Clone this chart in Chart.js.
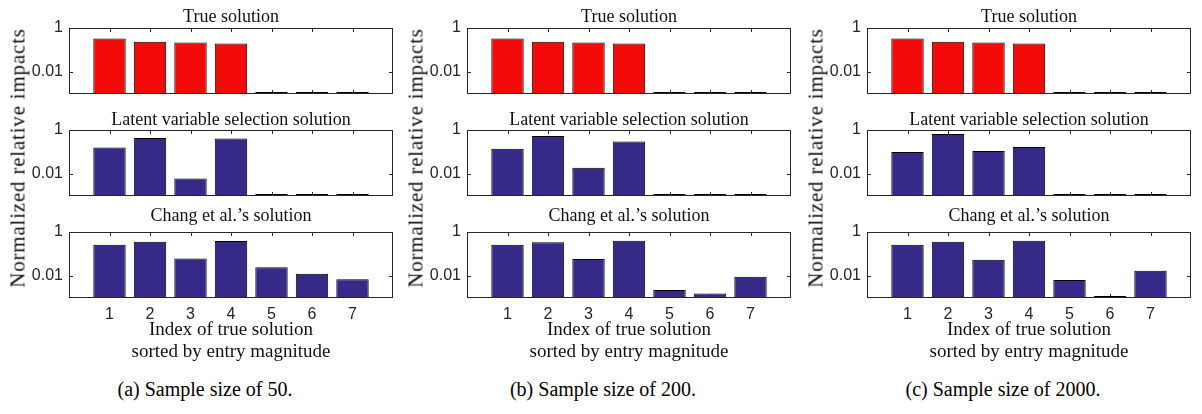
<!DOCTYPE html>
<html>
<head>
<meta charset="utf-8">
<script src="https://cdn.jsdelivr.net/npm/chart.js@4/dist/chart.umd.min.js"></script>
<style>
  html, body { margin: 0; padding: 0; background: #fff; }
  #fig { position: relative; width: 1202px; height: 414px; overflow: hidden; background: #fff; }
  #fig canvas { position: absolute; }
  .ylab {
    position: absolute; white-space: nowrap; line-height: 1;
    font-family: 'Liberation Serif', serif; font-size: 21px; letter-spacing: 0.8px; color: #111;
    transform: translate(-50%, -50%) rotate(-90deg);
  }
  .cap {
    position: absolute; white-space: nowrap; line-height: 24px;
    font-family: 'Liberation Serif', serif; font-size: 20px; color: #000;
    transform: translateX(-50%);
  }
</style>
</head>
<body>
<div id="fig"></div>
<script>
// ---- data -------------------------------------------------------------
const indices = [1, 2, 3, 4, 5, 6, 7];
const sampleSizes = [50, 200, 2000];
const panelLetters = ['a', 'b', 'c'];

// entries at the axis floor (1e-3) are zero entries
const trueSolution = [0.33, 0.24, 0.22, 0.20, 0.001, 0.001, 0.001];

const latent50   = [0.16, 0.43, 0.0062, 0.41, 0.001, 0.001, 0.001];
const latent200  = [0.14, 0.53, 0.019,  0.30, 0.001, 0.001, 0.001];
const latent2000 = [0.10, 0.66, 0.11,   0.17, 0.001, 0.001, 0.001];

const chang50   = [0.26, 0.36, 0.063, 0.39, 0.025,  0.0127, 0.0071];
const chang200  = [0.26, 0.34, 0.059, 0.40, 0.0023, 0.0016, 0.0093];
const chang2000 = [0.26, 0.36, 0.055, 0.40, 0.0066, 0.001,  0.0174];

const yTickValues = [0.01, 1];
const yTickLabels = ['0.01', '1'];

const rowTitles = ['True solution', 'Latent variable selection solution', 'Chang et al.\u2019s solution'];
const xTitleLines = ['Index of true solution', 'sorted by entry magnitude'];
const yAxisTitle = 'Normalized relative impacts';

const rowSeries = [
  [trueSolution, trueSolution, trueSolution],
  [latent50, latent200, latent2000],
  [chang50, chang200, chang2000]
];
const rowColors = ['#f50a0a', '#352a87', '#352a87'];

// ---- layout -----------------------------------------------------------
const plotLeft = [69, 467, 867];
const plotW = 324;
const plotTop = [28, 130, 232];
const plotH = 66;
const yAxisW = 60;
const padRight = 6;
const titleLH = 20;
const titlePadT = [1, 1, 1];
const titlePadB = [1, 0, 6];
const xAxisH = [6, 6, 65];
const axisColor = '#262626';
const tickLen = 4;

// MATLAB-style box with inward ticks on all four sides
const axesFrame = {
  id: 'axesFrame',
  beforeDatasetsDraw(chart) {
    const { ctx, chartArea: a, scales: { x, y } } = chart;
    ctx.save();
    ctx.strokeStyle = axisColor;
    ctx.lineWidth = 1;
    ctx.beginPath();
    indices.forEach(v => {
      const px = Math.round(x.getPixelForValue(v)) + 0.5;
      ctx.moveTo(px, a.top); ctx.lineTo(px, a.top + tickLen);
      ctx.moveTo(px, a.bottom); ctx.lineTo(px, a.bottom - tickLen);
    });
    yTickValues.forEach(v => {
      const py = Math.round(y.getPixelForValue(v)) + 0.5;
      ctx.moveTo(a.left, py); ctx.lineTo(a.left + tickLen, py);
      ctx.moveTo(a.right, py); ctx.lineTo(a.right - tickLen, py);
    });
    ctx.stroke();
    ctx.restore();
  },
  afterDatasetsDraw(chart) {
    const { ctx, chartArea: a } = chart;
    ctx.save();
    ctx.strokeStyle = axisColor;
    ctx.lineWidth = 1;
    ctx.strokeRect(a.left + 0.5, a.top + 0.5, a.right - a.left - 1, a.bottom - a.top - 1);
    ctx.restore();
  }
};

const fig = document.getElementById('fig');

function makePanel(r, c) {
  const cv = document.createElement('canvas');
  const titleH = titlePadT[r] + titleLH + titlePadB[r];
  const w = yAxisW + plotW + padRight;
  const h = titleH + plotH + xAxisH[r];
  cv.width = w; cv.height = h;
  cv.style.left = (plotLeft[c] - yAxisW) + 'px';
  cv.style.top = (plotTop[r] - titleH) + 'px';
  cv.style.width = w + 'px'; cv.style.height = h + 'px';
  fig.appendChild(cv);

  const values = rowSeries[r][c];
  const lastRow = r === 2;

  new Chart(cv, {
    type: 'bar',
    data: {
      datasets: [{
        data: indices.map((v, i) => ({ x: v, y: values[i] })),
        backgroundColor: rowColors[r],
        borderColor: '#000',
        borderWidth: 1,
        borderSkipped: false,
        minBarLength: 2,
        barPercentage: 0.8,
        categoryPercentage: 1
      }]
    },
    options: {
      responsive: false,
      animation: false,
      devicePixelRatio: 1,
      layout: { padding: { left: 0, right: padRight, top: 0, bottom: 0 } },
      plugins: {
        legend: { display: false },
        tooltip: { enabled: false },
        title: {
          display: true,
          text: rowTitles[r],
          fullSize: false,
          color: '#111',
          font: { family: 'Liberation Serif', size: 18, weight: 'normal', lineHeight: titleLH + 'px' },
          padding: { top: titlePadT[r], bottom: titlePadB[r] }
        }
      },
      scales: {
        x: {
          type: 'linear',
          min: 0, max: 8,
          offset: false,
          afterBuildTicks: s => { s.ticks = indices.map(v => ({ value: v })); },
          ticks: {
            display: lastRow,
            color: axisColor,
            padding: 8,
            font: { family: 'Liberation Sans', size: 16, lineHeight: '18px' },
            callback: v => String(v)
          },
          grid: { display: false, drawTicks: false },
          border: { display: false },
          title: {
            display: lastRow,
            text: xTitleLines,
            color: '#111',
            padding: 0,
            font: { family: 'Liberation Serif', size: 19, lineHeight: '22px' }
          },
          afterFit: s => { s.height = xAxisH[r]; s.paddingLeft = 0; s.paddingRight = 0; }
        },
        y: {
          type: 'logarithmic',
          min: 0.001, max: 1,
          afterBuildTicks: s => { s.ticks = yTickValues.map(v => ({ value: v })); },
          ticks: {
            color: axisColor,
            padding: 6,
            font: { family: 'Liberation Sans', size: 16, lineHeight: '18px' },
            callback: v => yTickLabels[yTickValues.indexOf(v)]
          },
          grid: { display: false, drawTicks: false },
          border: { display: false },
          afterFit: s => { s.width = yAxisW; s.paddingTop = 0; s.paddingBottom = 0; }
        }
      }
    },
    plugins: [axesFrame]
  });
}

for (let r = 0; r < 3; r++) {
  for (let c = 0; c < 3; c++) makePanel(r, c);
}

// shared y-axis label per column and subfigure captions
for (let c = 0; c < 3; c++) {
  const yl = document.createElement('div');
  yl.className = 'ylab';
  yl.textContent = yAxisTitle;
  yl.style.left = (plotLeft[c] - 51) + 'px';
  yl.style.top = '158px';
  fig.appendChild(yl);

  const cap = document.createElement('div');
  cap.className = 'cap';
  cap.textContent = '(' + panelLetters[c] + ') Sample size of ' + sampleSizes[c] + '.';
  cap.style.left = (plotLeft[c] + 136) + 'px';
  cap.style.top = '377px';
  fig.appendChild(cap);
}
</script>
</body>
</html>
